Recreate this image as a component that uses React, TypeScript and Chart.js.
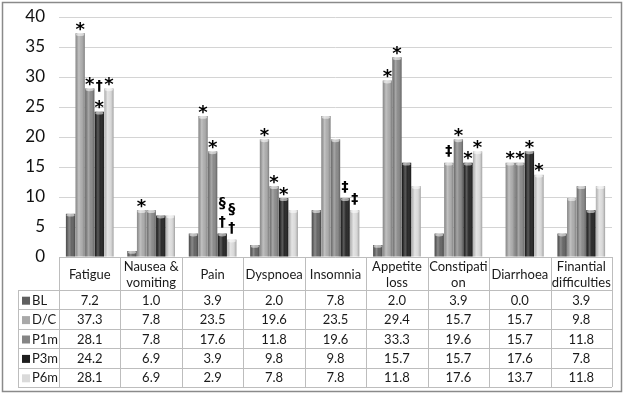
import React, { useEffect, useRef } from "react";
import { Chart, registerables } from "chart.js";
Chart.register(...registerables);

const categories: string[][] = [
  ["Fatigue"],
  ["Nausea &", "vomiting"],
  ["Pain"],
  ["Dyspnoea"],
  ["Insomnia"],
  ["Appetite", "loss"],
  ["Constipati", "on"],
  ["Diarrhoea"],
  ["Finantial", "difficulties"],
];
const seriesNames = ["BL", "D/C", "P1m", "P3m", "P6m"];
const BL = [7.2, 1.0, 3.9, 2.0, 7.8, 2.0, 3.9, 0.0, 3.9];
const DC = [37.3, 7.8, 23.5, 19.6, 23.5, 29.4, 15.7, 15.7, 9.8];
const P1m = [28.1, 7.8, 17.6, 11.8, 19.6, 33.3, 19.6, 15.7, 11.8];
const P3m = [24.2, 6.9, 3.9, 9.8, 9.8, 15.7, 15.7, 17.6, 7.8];
const P6m = [28.1, 6.9, 2.9, 7.8, 7.8, 11.8, 17.6, 13.7, 11.8];
const yMin = 0;
const yMax = 40;
const yStep = 5;

// significance marks above bars ("\n" stacks top-to-bottom)
const markBL = ["", "", "", "", "", "", "", "", ""];
const markDC = ["*", "*", "*", "*", "", "*", "‡", "*", ""];
const markP1m = ["*", "", "*", "*", "", "*", "*", "*", ""];
const markP3m = ["†\n*", "", "§\n†", "*", "‡", "", "*", "*", ""];
const markP6m = ["*", "", "§\n†", "", "‡", "", "*", "*", ""];

const seriesData = [BL, DC, P1m, P3m, P6m];
const seriesMarks = [markBL, markDC, markP1m, markP3m, markP6m];
const seriesColors = ["#5f5f5f", "#a9a9a9", "#858585", "#1e1e1e", "#dadada"];

const FONT = "Lato, 'Open Sans', sans-serif";

const frameTablePlugin = {
  id: "frameTable",
  beforeDraw(chart: any) {
    const ctx = chart.ctx;
    ctx.save();
    ctx.fillStyle = "#ffffff";
    ctx.fillRect(0, 0, chart.width, chart.height);
    ctx.restore();
  },
  afterDatasetsDraw(chart: any) {
    const ctx = chart.ctx;
    ctx.save();
    chart.data.datasets.forEach((ds: any, di: number) => {
      const meta = chart.getDatasetMeta(di);
      meta.data.forEach((el: any, i: number) => {
        const { x, y, base, width } = el.getProps(["x", "y", "base", "width"], true);
        const h = base - y;
        if (h <= 0.5) return;
        const left = x - width / 2;
        const g = ctx.createLinearGradient(left, 0, left + width, 0);
        g.addColorStop(0, "rgba(0,0,0,0.18)");
        g.addColorStop(0.35, "rgba(255,255,255,0.28)");
        g.addColorStop(0.6, "rgba(255,255,255,0.05)");
        g.addColorStop(1, "rgba(0,0,0,0.28)");
        ctx.fillStyle = g;
        ctx.fillRect(left, y, width, h);
        ctx.beginPath();
        ctx.ellipse(x, y + 1.2, width / 2 - 0.5, 1.6, 0, 0, Math.PI * 2);
        ctx.fillStyle = "rgba(255,255,255,0.55)";
        ctx.fill();
        const mark = seriesMarks[di][i];
        if (mark) {
          const lines = mark.split("\n");
          ctx.fillStyle = "#000";
          ctx.textAlign = "center";
          ctx.textBaseline = "middle";
          let cy = y;
          for (let k = lines.length - 1; k >= 0; k--) {
            const s = lines[k];
            const last = k === lines.length - 1;
            if (s === "*") {
              ctx.font = "bold 18px 'DejaVu Sans', sans-serif";
              const cyy = last ? y - 6 : cy - 18;
              ctx.fillText(s, x, cyy + 3);
              cy = cyy;
            } else {
              ctx.font = "bold 14px 'DejaVu Sans', sans-serif";
              const cyy = last ? y - 11 : cy - 19;
              ctx.fillText(s, x, cyy);
              cy = cyy;
            }
          }
        }
      });
    });
    ctx.restore();
  },
  afterDraw(chart: any) {
    const ctx = chart.ctx;
    const area = chart.chartArea;
    const xs = chart.scales.x;
    const n = categories.length;
    const catW = (area.right - area.left) / n;
    const top = area.bottom;
    const headerH = 33;
    const rowH = 19.4;
    const tableBottom = top + headerH + rowH * seriesNames.length;
    const legendLeft = 18;
    ctx.save();
    ctx.strokeStyle = "#bdbdbd";
    ctx.lineWidth = 1;
    ctx.beginPath();
    ctx.moveTo(area.left, Math.round(top) + 0.5);
    ctx.lineTo(area.right, Math.round(top) + 0.5);
    for (let r = 0; r <= seriesNames.length; r++) {
      const yy = Math.round(top + headerH + r * rowH) + 0.5;
      ctx.moveTo(legendLeft, yy);
      ctx.lineTo(area.right, yy);
    }
    for (let c = 0; c <= n; c++) {
      const xx = Math.round(xs.getPixelForValue(0) - catW / 2 + c * catW) + 0.5;
      ctx.moveTo(xx, top);
      ctx.lineTo(xx, tableBottom);
    }
    ctx.moveTo(legendLeft + 0.5, top + headerH);
    ctx.lineTo(legendLeft + 0.5, tableBottom);
    ctx.stroke();

    ctx.fillStyle = "#1a1a1a";
    ctx.textAlign = "center";
    ctx.textBaseline = "middle";
    ctx.font = `13px ${FONT}`;
    categories.forEach((lines, i) => {
      const cx = xs.getPixelForValue(i);
      const cyMid = top + headerH / 2 + 1;
      const lh = 16;
      lines.forEach((s, k) => {
        ctx.fillText(s, cx, cyMid + (k - (lines.length - 1) / 2) * lh);
      });
    });

    seriesNames.forEach((name, r) => {
      const cy = top + headerH + r * rowH + rowH / 2 + 1;
      ctx.fillStyle = seriesColors[r];
      ctx.fillRect(legendLeft + 4, cy - 4, 8, 8);
      ctx.fillStyle = "#1a1a1a";
      ctx.textAlign = "left";
      ctx.font = `13px ${FONT}`;
      ctx.fillText(name, legendLeft + 14, cy);
      ctx.textAlign = "center";
      seriesData[r].forEach((v, i) => {
        ctx.fillText(v.toFixed(1), xs.getPixelForValue(i), cy);
      });
    });

    ctx.strokeStyle = "#8a8a8a";
    ctx.lineWidth = 1.5;
    ctx.strokeRect(2.5, 2.5, 619, 389);
    ctx.restore();
  },
};

export default function App() {
  const ref = useRef<HTMLCanvasElement>(null);
  useEffect(() => {
    if (!ref.current) return;
    const chart = new Chart(ref.current, {
      type: "bar",
      data: {
        labels: categories.map((c) => c.join(" ")),
        datasets: seriesNames.map((name, i) => ({
          label: name,
          data: seriesData[i],
          backgroundColor: seriesColors[i],
          borderWidth: 0,
          categoryPercentage: 0.78,
          barPercentage: 0.97,
        })),
      },
      options: {
        responsive: false,
        animation: false,
        layout: { padding: { top: 17, left: 0, right: 14, bottom: 0 } },
        plugins: {
          legend: { display: false },
          tooltip: { enabled: false },
          title: { display: false },
        },
        scales: {
          x: {
            grid: { display: false },
            border: { display: false },
            ticks: { display: false },
            afterFit(scale: any) {
              scale.height = 138;
            },
          },
          y: {
            min: yMin,
            max: yMax,
            ticks: {
              stepSize: yStep,
              padding: 14,
              color: "#111",
              font: { family: FONT, size: 17 },
            },
            grid: { color: "#d4d4d4", drawTicks: false },
            border: { display: false },
            afterFit(scale: any) {
              scale.width = 59;
              scale.paddingTop = 0;
              scale.paddingBottom = 0;
            },
          },
        },
      },
      plugins: [frameTablePlugin],
    });
    return () => chart.destroy();
  }, []);
  return (
    <div style={{ position: "fixed", left: 0, top: 0, width: 626, height: 395 }}>
      <canvas ref={ref} width={626} height={395} style={{ display: "block" }} />
    </div>
  );
}
